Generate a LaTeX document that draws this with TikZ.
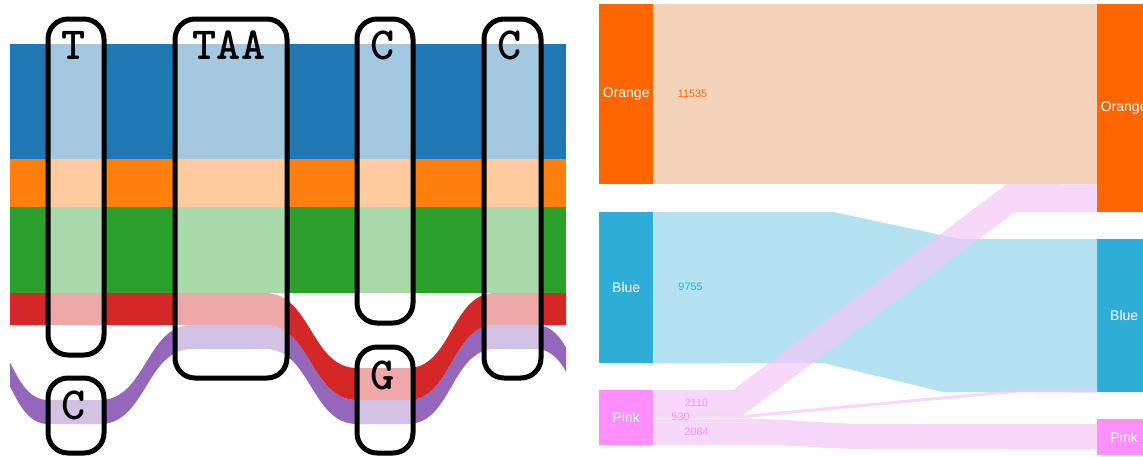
\documentclass[tikz,border=0pt]{standalone}
\usepackage{fontspec}
\setmainfont{Liberation Sans}
\definecolor{tblue}{RGB}{31,119,180}
\definecolor{torange}{RGB}{255,127,14}
\definecolor{tgreen}{RGB}{44,160,44}
\definecolor{tred}{RGB}{214,39,40}
\definecolor{tpurple}{RGB}{148,103,189}
\definecolor{sorange}{RGB}{255,102,0}
\definecolor{sblue}{RGB}{46,173,214}
\definecolor{spink}{RGB}{255,143,255}
\definecolor{olinkc}{RGB}{245,211,187}
\definecolor{blinkc}{RGB}{180,226,240}
\definecolor{plinkc}{RGB}{244,200,246}
\begin{document}
\begin{tikzpicture}[x=1pt,y=-1pt,
  tubebox/.style={draw=black, line width=5pt, rounded corners=20pt, fill=white, fill opacity=0.6, draw opacity=1, inner sep=0pt, anchor=north west},
  seqlabel/.style={font=\ttfamily\bfseries\fontsize{46}{46}\selectfont, text=black, inner sep=0pt},
  snode/.style={inner sep=0pt, minimum width=54pt, anchor=north west, text=white, font=\fontsize{14}{14}\selectfont},
  valtext/.style={font=\fontsize{10.8}{11}\selectfont, inner sep=0pt},
  olink/.style={fill=olinkc},
  blink/.style={fill=blinkc},
  plink/.style={fill=plinkc, fill opacity=0.7}]
\useasboundingbox (0,0) rectangle (1143,456);
\fill[white] (0,0) rectangle (1143,456);
\clip (0,0) rectangle (1143,456);

% ---------- left: tube map ----------
\begin{scope}
\clip (10,0) rectangle (566,456);
\fill[tblue] (10,44) rectangle (566,159);
\fill[torange] (10,159) rectangle (566,207);
\fill[tgreen] (10,207) rectangle (566,293);
% purple track
\fill[tpurple] (-60,325) -- (-28,325) .. controls (10,325) and (10,400) .. (48,400) -- (100,400) .. controls (146,400) and (146,325) .. (192,325) -- (265,325) .. controls (311,325) and (311,400) .. (357,400) -- (408,400) .. controls (451.5,400) and (451.5,325) .. (495,325) -- (536,325) .. controls (574,325) and (574,400) .. (612,400)
  -- (612,424) .. controls (574,424) and (574,349) .. (536,349) -- (495,349) .. controls (451.5,349) and (451.5,424) .. (408,424) -- (357,424) .. controls (311,424) and (311,349) .. (265,349) -- (192,349) .. controls (146,349) and (146,424) .. (100,424) -- (48,424) .. controls (10,424) and (10,349) .. (-28,349) -- (-60,349) -- cycle;
% red track
\fill[tred] (0,293) -- (265,293) .. controls (311,293) and (311,368) .. (357,368) -- (408,368) .. controls (451.5,368) and (451.5,293) .. (495,293) -- (580,293)
  -- (580,325) -- (495,325) .. controls (451.5,325) and (451.5,400) .. (408,400) -- (357,400) .. controls (311,400) and (311,325) .. (265,325) -- (0,325) -- cycle;
\end{scope}

\node[tubebox, minimum width=56pt, minimum height=336pt] (nT) at (45.5,16.5) {};
\node[tubebox, minimum width=112pt, minimum height=359pt] (nTAA) at (172.5,16.5) {};
\node[tubebox, minimum width=56pt, minimum height=304pt] (nC1) at (354.5,16.5) {};
\node[tubebox, minimum width=57pt, minimum height=359pt] (nC2) at (481.5,16.5) {};
\node[tubebox, minimum width=56pt, minimum height=75pt] (nCb) at (45.5,375.5) {};
\node[tubebox, minimum width=56pt, minimum height=106pt] (nG) at (354.5,344.5) {};

\node[seqlabel] (lT) at (73.5,45) {T};
\node[seqlabel] (lTAA) at (229,45) {TAA};
\node[seqlabel] (lC1) at (382.5,45) {C};
\node[seqlabel] (lC2) at (510,45) {C};
\node[seqlabel] (lCb) at (73.5,405) {C};
\node[seqlabel] (lG) at (382.5,375) {G};

% ---------- right: sankey ----------
\node[snode, minimum height=180pt, fill=sorange] (lo) at (599,4) {Orange};
\node[snode, minimum height=151pt, fill=sblue] (lb) at (599,212) {Blue};
\node[snode, minimum height=55pt, fill=spink] (lp) at (599,390) {Pink};
\node[snode, minimum height=208pt, fill=sorange] (ro) at (1097,4) {Orange};
\node[snode, minimum height=153pt, fill=sblue] (rb) at (1097,239) {Blue};
\node[snode, minimum height=36pt, fill=spink] (rp) at (1097,419) {Pink};

% links
\fill[olink] (lo.north east) rectangle (lo.south east -| ro.west);
\fill[blink] (lb.north east) -- (833,212) -- (960,239) -- (rb.north west) -- (rb.south west) -- (943,392) -- (823,363) -- (lb.south east) -- cycle;
\fill[plink] (lp.north east) -- (733,390) -- (1007,184) -- (lo.south east -| ro.west) -- (ro.south west) -- (1015,212) -- (743,415) -- ([yshift=-25pt]lp.north east) -- cycle;
\fill[plink] ([yshift=-25pt]lp.north east) -- (743,415) -- (1023,389) -- ([yshift=3pt]rb.south west) -- (rb.south west) -- (1023,392) -- (745,418) -- ([yshift=-28pt]lp.north east) -- cycle;
\fill[plink] ([yshift=-29pt]lp.north east) -- (745,419) .. controls (800,419) and (820,424) .. (870,424) -- ([yshift=-5pt]rp.north west) -- ([yshift=6pt]rp.south west) -- (870,449) .. controls (820,449) and (800,445) .. (760,445) -- (lp.south east) -- cycle;

\node[valtext, text=sorange] (v1) at (692.5,94) {11535};
\node[valtext, text=sblue] (v2) at (690.5,287) {9755};
\node[valtext, text=spink] (v3) at (696.5,403) {2110};
\node[valtext, text=spink] (v4) at (680.5,417) {530};
\node[valtext, text=spink] (v5) at (696.5,432) {2084};
\end{tikzpicture}
\end{document}
